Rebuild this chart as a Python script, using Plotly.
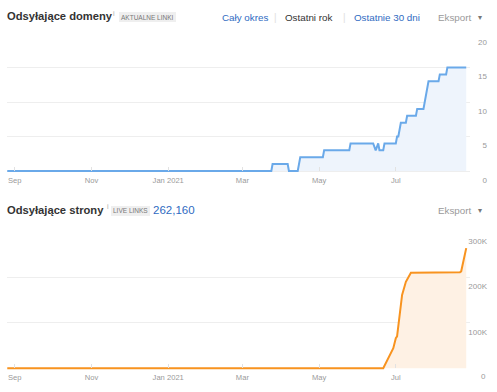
import plotly.graph_objects as go

# ---- data ----
dom_dates = ["2020-08-26", "2021-03-24", "2021-03-25", "2021-04-06", "2021-04-07", "2021-04-14",
             "2021-04-15", "2021-04-16", "2021-05-04", "2021-05-05", "2021-05-25", "2021-05-26",
             "2021-06-13", "2021-06-15", "2021-06-17", "2021-06-18", "2021-06-21", "2021-06-22",
             "2021-07-01", "2021-07-02", "2021-07-03", "2021-07-05", "2021-07-09", "2021-07-10",
             "2021-07-17", "2021-07-18", "2021-07-23", "2021-07-27", "2021-08-04", "2021-08-05",
             "2021-08-10", "2021-08-11", "2021-08-26"]
dom_values = [0, 0, 1, 1, 0, 0,
              1, 2, 2, 3, 3, 4,
              4, 3, 4, 3, 3, 4,
              4, 5, 5, 7, 7, 8,
              8, 9, 9, 13, 13, 14,
              14, 15, 15]

page_dates = ["2020-08-26", "2021-06-21", "2021-06-29", "2021-07-01", "2021-07-02", "2021-07-06",
              "2021-07-09", "2021-07-13", "2021-08-21", "2021-08-22", "2021-08-26"]
page_values = [0, 0, 44000, 66000, 70000, 161000,
               190000, 210000, 211000, 213000, 264000]

x_tick_vals = ["2020-09-01", "2020-11-01", "2021-01-01", "2021-03-01", "2021-05-01", "2021-07-01"]
x_tick_text = ["Sep", "Nov", "Jan 2021", "Mar", "May", "Jul"]
dom_y_ticks = [0, 5, 10, 15, 20]
dom_y_text = ["0", "5", "10", "15", "20"]
page_y_ticks = [0, 100000, 200000, 300000]
page_y_text = ["0", "100K", "200K", "300K"]
live_links_total = "262,160"

FONT = "Liberation Sans, Arial, sans-serif"
XR = ["2020-08-25 19:00", "2021-08-29"]
XD = [7 / 497, 470 / 497]
H = 392
TICKFONT = dict(family=FONT, size=8, color="#9a9a9a")

fig = go.Figure()
fig.add_trace(go.Scatter(x=dom_dates, y=dom_values, mode="lines", fill="tozeroy",
                         line=dict(color="#6aa9e9", width=2), fillcolor="#eef4fc",
                         xaxis="x", yaxis="y", hoverinfo="skip"))
fig.add_trace(go.Scatter(x=page_dates, y=page_values, mode="lines", fill="tozeroy",
                         line=dict(color="#f8931f", width=2), fillcolor="#fef1e4",
                         xaxis="x2", yaxis="y2", hoverinfo="skip"))

xcommon = dict(type="date", range=XR, domain=XD, tickvals=x_tick_vals, ticktext=x_tick_text,
               showgrid=False, zeroline=False, showline=False, ticks="inside", ticklen=4,
               tickcolor="#e2e2e2", tickfont=dict(family=FONT, size=7.6, color="#9a9a9a"),
               ticklabelstandoff=3, anchor="free", fixedrange=True)
ycommon = dict(side="right", anchor="free", position=490 / 497, ticklabelposition="inside",
               showline=False, zeroline=False, showgrid=True, gridcolor="#eeeeee", gridwidth=1,
               ticks="", ticklabelshift=9, tickfont=TICKFONT, fixedrange=True)

# top panel: 0 at 171 px, 20 at 33 px ; bottom panel: 0 at 368.3 px, 300K at 231.7 px
t0, t1 = 171, 33
b0, b1 = 368.3, 231.7
tpu = (t0 - t1) / 20
bpu = (b0 - b1) / 300000
t_lo = -2
b_lo = -30000

fig.update_layout(
    width=497, height=H, margin=dict(l=0, r=0, t=0, b=0),
    paper_bgcolor="white", plot_bgcolor="white", showlegend=False,
    xaxis=dict(xcommon, position=1 - t0 / H),
    yaxis=dict(ycommon, domain=[1 - (t0 - t_lo * tpu) / H, 1 - t1 / H], range=[t_lo, 20],
               tickvals=dom_y_ticks, ticktext=dom_y_text),
    xaxis2=dict(xcommon, position=1 - b0 / H),
    yaxis2=dict(ycommon, domain=[1 - (b0 - b_lo * bpu) / H, 1 - b1 / H], range=[b_lo, 300000],
                tickvals=page_y_ticks[1:], ticktext=page_y_text[1:]),
)

def txt(x, y, s, size=10, color="#333333", bold=False, anchor="left"):
    if bold:
        s = "<b>" + s + "</b>"
    fig.add_annotation(x=x / 497, y=1 - y / H, xref="paper", yref="paper", text=s,
                       showarrow=False, xanchor=anchor, yanchor="middle", borderpad=0,
                       font=dict(family=FONT, size=size, color=color))

# bottom panel "0" tick label
txt(487, b0 + 8, page_y_text[0], size=8, color="#9a9a9a", anchor="right")

def badge(x0, x1, yc, s):
    fig.add_shape(type="rect", xref="paper", yref="paper", x0=x0 / 497, x1=x1 / 497,
                  y0=1 - (yc + 5) / H, y1=1 - (yc - 5) / H, fillcolor="#efefef",
                  line=dict(width=0), layer="below")
    txt((x0 + x1) / 2, yc, s, size=6.5, color="#777777", anchor="center")

# top header
txt(6, 16, "Odsyłające domeny", size=11.2, bold=True)
txt(112, 13, "i", size=7, color="#aaaaaa")
badge(119, 176, 17, "AKTUALNE LINKI")
txt(221, 17, "Cały okres", size=9.8, color="#2f6bc2")
txt(275, 17, "|", size=10, color="#e0e0e0", anchor="center")
txt(284, 17, "Ostatni rok", size=9.8, color="#333333")
txt(344, 17, "|", size=10, color="#e0e0e0", anchor="center")
txt(353, 17, "Ostatnie 30 dni", size=9.8, color="#2f6bc2")
txt(437, 17, "Eksport", size=9.8, color="#9a9a9a")
txt(480, 17, "▾", size=8, color="#777777", anchor="center")

# bottom header
txt(6, 210, "Odsyłające strony", size=11.2, bold=True)
txt(106, 207, "i", size=7, color="#aaaaaa")
badge(111, 150, 211, "LIVE LINKS")
txt(152, 210, live_links_total, size=11.5, color="#2f6bc2")
txt(437, 210, "Eksport", size=9.8, color="#9a9a9a")
txt(480, 210, "▾", size=8, color="#777777", anchor="center")

fig.write_html("out.html", config={"displayModeBar": False},
               post_script="document.body.style.margin='0';document.body.style.overflow='hidden';")
